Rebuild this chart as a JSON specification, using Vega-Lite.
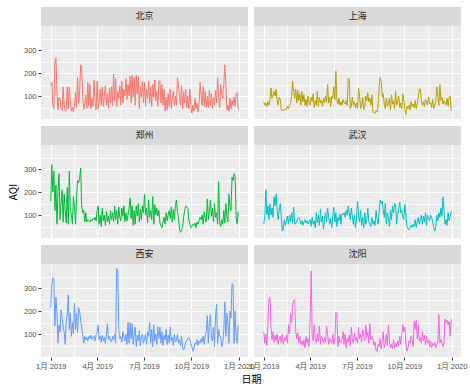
{
"$schema": "https://vega.github.io/schema/vega-lite/v6.json",
"background": "white",
"padding": {"left": 8, "top": 7, "right": 8, "bottom": 4},
"data": {"values": [
{"c":"北京","d":"2019-01-01","v":145},{"c":"北京","d":"2019-01-03","v":160},{"c":"北京","d":"2019-01-05","v":60},{"c":"北京","d":"2019-01-07","v":45},{"c":"北京","d":"2019-01-09","v":250},{"c":"北京","d":"2019-01-11","v":266},{"c":"北京","d":"2019-01-13","v":120},{"c":"北京","d":"2019-01-15","v":40},{"c":"北京","d":"2019-01-17","v":95},{"c":"北京","d":"2019-01-19","v":85},{"c":"北京","d":"2019-01-21","v":45},{"c":"北京","d":"2019-01-23","v":35},{"c":"北京","d":"2019-01-25","v":140},{"c":"北京","d":"2019-01-27","v":60},{"c":"北京","d":"2019-01-29","v":35},{"c":"北京","d":"2019-01-31","v":40},
{"c":"北京","d":"2019-02-02","v":140},{"c":"北京","d":"2019-02-04","v":45},{"c":"北京","d":"2019-02-06","v":140},{"c":"北京","d":"2019-02-08","v":75},{"c":"北京","d":"2019-02-10","v":35},{"c":"北京","d":"2019-02-12","v":50},{"c":"北京","d":"2019-02-14","v":30},{"c":"北京","d":"2019-02-16","v":60},{"c":"北京","d":"2019-02-18","v":115},{"c":"北京","d":"2019-02-20","v":50},{"c":"北京","d":"2019-02-22","v":180},{"c":"北京","d":"2019-02-24","v":70},{"c":"北京","d":"2019-02-26","v":120},{"c":"北京","d":"2019-02-28","v":236},
{"c":"北京","d":"2019-03-02","v":225},{"c":"北京","d":"2019-03-04","v":100},{"c":"北京","d":"2019-03-06","v":40},{"c":"北京","d":"2019-03-08","v":60},{"c":"北京","d":"2019-03-10","v":105},{"c":"北京","d":"2019-03-12","v":45},{"c":"北京","d":"2019-03-14","v":160},{"c":"北京","d":"2019-03-16","v":60},{"c":"北京","d":"2019-03-18","v":150},{"c":"北京","d":"2019-03-20","v":45},{"c":"北京","d":"2019-03-22","v":90},{"c":"北京","d":"2019-03-24","v":55},{"c":"北京","d":"2019-03-26","v":170},{"c":"北京","d":"2019-03-28","v":80},{"c":"北京","d":"2019-03-30","v":40},
{"c":"北京","d":"2019-04-01","v":165},{"c":"北京","d":"2019-04-03","v":45},{"c":"北京","d":"2019-04-05","v":75},{"c":"北京","d":"2019-04-07","v":130},{"c":"北京","d":"2019-04-09","v":60},{"c":"北京","d":"2019-04-11","v":140},{"c":"北京","d":"2019-04-13","v":55},{"c":"北京","d":"2019-04-15","v":100},{"c":"北京","d":"2019-04-17","v":145},{"c":"北京","d":"2019-04-19","v":60},{"c":"北京","d":"2019-04-21","v":110},{"c":"北京","d":"2019-04-23","v":45},{"c":"北京","d":"2019-04-25","v":135},{"c":"北京","d":"2019-04-27","v":70},{"c":"北京","d":"2019-04-29","v":140},
{"c":"北京","d":"2019-05-01","v":60},{"c":"北京","d":"2019-05-03","v":195},{"c":"北京","d":"2019-05-05","v":80},{"c":"北京","d":"2019-05-07","v":175},{"c":"北京","d":"2019-05-09","v":55},{"c":"北京","d":"2019-05-11","v":120},{"c":"北京","d":"2019-05-13","v":90},{"c":"北京","d":"2019-05-15","v":145},{"c":"北京","d":"2019-05-17","v":60},{"c":"北京","d":"2019-05-19","v":165},{"c":"北京","d":"2019-05-21","v":70},{"c":"北京","d":"2019-05-23","v":130},{"c":"北京","d":"2019-05-25","v":100},{"c":"北京","d":"2019-05-27","v":175},{"c":"北京","d":"2019-05-29","v":85},{"c":"北京","d":"2019-05-31","v":150},
{"c":"北京","d":"2019-06-02","v":100},{"c":"北京","d":"2019-06-04","v":185},{"c":"北京","d":"2019-06-06","v":70},{"c":"北京","d":"2019-06-08","v":190},{"c":"北京","d":"2019-06-10","v":95},{"c":"北京","d":"2019-06-12","v":180},{"c":"北京","d":"2019-06-14","v":60},{"c":"北京","d":"2019-06-16","v":190},{"c":"北京","d":"2019-06-18","v":110},{"c":"北京","d":"2019-06-20","v":185},{"c":"北京","d":"2019-06-22","v":45},{"c":"北京","d":"2019-06-24","v":140},{"c":"北京","d":"2019-06-26","v":95},{"c":"北京","d":"2019-06-28","v":165},{"c":"北京","d":"2019-06-30","v":70},
{"c":"北京","d":"2019-07-02","v":160},{"c":"北京","d":"2019-07-04","v":55},{"c":"北京","d":"2019-07-06","v":130},{"c":"北京","d":"2019-07-08","v":90},{"c":"北京","d":"2019-07-10","v":165},{"c":"北京","d":"2019-07-12","v":70},{"c":"北京","d":"2019-07-14","v":140},{"c":"北京","d":"2019-07-16","v":55},{"c":"北京","d":"2019-07-18","v":150},{"c":"北京","d":"2019-07-20","v":95},{"c":"北京","d":"2019-07-22","v":170},{"c":"北京","d":"2019-07-24","v":80},{"c":"北京","d":"2019-07-26","v":120},{"c":"北京","d":"2019-07-28","v":55},{"c":"北京","d":"2019-07-30","v":165},
{"c":"北京","d":"2019-08-01","v":165},{"c":"北京","d":"2019-08-03","v":70},{"c":"北京","d":"2019-08-05","v":150},{"c":"北京","d":"2019-08-07","v":60},{"c":"北京","d":"2019-08-09","v":130},{"c":"北京","d":"2019-08-11","v":35},{"c":"北京","d":"2019-08-13","v":95},{"c":"北京","d":"2019-08-15","v":40},{"c":"北京","d":"2019-08-17","v":110},{"c":"北京","d":"2019-08-19","v":55},{"c":"北京","d":"2019-08-21","v":130},{"c":"北京","d":"2019-08-23","v":45},{"c":"北京","d":"2019-08-25","v":90},{"c":"北京","d":"2019-08-27","v":120},{"c":"北京","d":"2019-08-29","v":60},{"c":"北京","d":"2019-08-31","v":100},
{"c":"北京","d":"2019-09-02","v":60},{"c":"北京","d":"2019-09-04","v":180},{"c":"北京","d":"2019-09-06","v":150},{"c":"北京","d":"2019-09-08","v":100},{"c":"北京","d":"2019-09-10","v":60},{"c":"北京","d":"2019-09-12","v":145},{"c":"北京","d":"2019-09-14","v":45},{"c":"北京","d":"2019-09-16","v":120},{"c":"北京","d":"2019-09-18","v":70},{"c":"北京","d":"2019-09-20","v":130},{"c":"北京","d":"2019-09-22","v":50},{"c":"北京","d":"2019-09-24","v":100},{"c":"北京","d":"2019-09-26","v":45},{"c":"北京","d":"2019-09-28","v":130},{"c":"北京","d":"2019-09-30","v":60},
{"c":"北京","d":"2019-10-02","v":25},{"c":"北京","d":"2019-10-04","v":60},{"c":"北京","d":"2019-10-06","v":35},{"c":"北京","d":"2019-10-08","v":90},{"c":"北京","d":"2019-10-10","v":45},{"c":"北京","d":"2019-10-12","v":70},{"c":"北京","d":"2019-10-14","v":30},{"c":"北京","d":"2019-10-16","v":60},{"c":"北京","d":"2019-10-18","v":160},{"c":"北京","d":"2019-10-20","v":100},{"c":"北京","d":"2019-10-22","v":60},{"c":"北京","d":"2019-10-24","v":140},{"c":"北京","d":"2019-10-26","v":55},{"c":"北京","d":"2019-10-28","v":120},{"c":"北京","d":"2019-10-30","v":50},
{"c":"北京","d":"2019-11-01","v":100},{"c":"北京","d":"2019-11-03","v":50},{"c":"北京","d":"2019-11-05","v":125},{"c":"北京","d":"2019-11-07","v":60},{"c":"北京","d":"2019-11-09","v":110},{"c":"北京","d":"2019-11-11","v":45},{"c":"北京","d":"2019-11-13","v":95},{"c":"北京","d":"2019-11-15","v":60},{"c":"北京","d":"2019-11-17","v":125},{"c":"北京","d":"2019-11-19","v":70},{"c":"北京","d":"2019-11-21","v":180},{"c":"北京","d":"2019-11-23","v":95},{"c":"北京","d":"2019-11-25","v":50},{"c":"北京","d":"2019-11-27","v":150},{"c":"北京","d":"2019-11-29","v":110},
{"c":"北京","d":"2019-12-01","v":90},{"c":"北京","d":"2019-12-03","v":150},{"c":"北京","d":"2019-12-05","v":236},{"c":"北京","d":"2019-12-07","v":150},{"c":"北京","d":"2019-12-09","v":40},{"c":"北京","d":"2019-12-11","v":60},{"c":"北京","d":"2019-12-13","v":35},{"c":"北京","d":"2019-12-15","v":90},{"c":"北京","d":"2019-12-17","v":45},{"c":"北京","d":"2019-12-19","v":80},{"c":"北京","d":"2019-12-21","v":60},{"c":"北京","d":"2019-12-23","v":95},{"c":"北京","d":"2019-12-25","v":55},{"c":"北京","d":"2019-12-27","v":110},{"c":"北京","d":"2019-12-29","v":115},{"c":"北京","d":"2019-12-31","v":40},

{"c":"上海","d":"2019-01-01","v":75},{"c":"上海","d":"2019-01-03","v":60},{"c":"上海","d":"2019-01-05","v":70},{"c":"上海","d":"2019-01-07","v":55},{"c":"上海","d":"2019-01-09","v":75},{"c":"上海","d":"2019-01-11","v":60},{"c":"上海","d":"2019-01-13","v":80},{"c":"上海","d":"2019-01-15","v":135},{"c":"上海","d":"2019-01-17","v":90},{"c":"上海","d":"2019-01-19","v":105},{"c":"上海","d":"2019-01-21","v":120},{"c":"上海","d":"2019-01-23","v":100},{"c":"上海","d":"2019-01-25","v":130},{"c":"上海","d":"2019-01-27","v":80},{"c":"上海","d":"2019-01-29","v":60},{"c":"上海","d":"2019-01-31","v":95},
{"c":"上海","d":"2019-02-02","v":85},{"c":"上海","d":"2019-02-04","v":40},{"c":"上海","d":"2019-02-06","v":35},{"c":"上海","d":"2019-02-08","v":40},{"c":"上海","d":"2019-02-10","v":38},{"c":"上海","d":"2019-02-12","v":45},{"c":"上海","d":"2019-02-14","v":40},{"c":"上海","d":"2019-02-16","v":55},{"c":"上海","d":"2019-02-18","v":45},{"c":"上海","d":"2019-02-20","v":60},{"c":"上海","d":"2019-02-22","v":70},{"c":"上海","d":"2019-02-24","v":95},{"c":"上海","d":"2019-02-26","v":165},{"c":"上海","d":"2019-02-28","v":120},
{"c":"上海","d":"2019-03-02","v":90},{"c":"上海","d":"2019-03-04","v":130},{"c":"上海","d":"2019-03-06","v":70},{"c":"上海","d":"2019-03-08","v":125},{"c":"上海","d":"2019-03-10","v":80},{"c":"上海","d":"2019-03-12","v":110},{"c":"上海","d":"2019-03-14","v":60},{"c":"上海","d":"2019-03-16","v":120},{"c":"上海","d":"2019-03-18","v":75},{"c":"上海","d":"2019-03-20","v":105},{"c":"上海","d":"2019-03-22","v":60},{"c":"上海","d":"2019-03-24","v":85},{"c":"上海","d":"2019-03-26","v":55},{"c":"上海","d":"2019-03-28","v":100},{"c":"上海","d":"2019-03-30","v":70},
{"c":"上海","d":"2019-04-01","v":60},{"c":"上海","d":"2019-04-03","v":95},{"c":"上海","d":"2019-04-05","v":75},{"c":"上海","d":"2019-04-07","v":110},{"c":"上海","d":"2019-04-09","v":50},{"c":"上海","d":"2019-04-11","v":80},{"c":"上海","d":"2019-04-13","v":60},{"c":"上海","d":"2019-04-15","v":120},{"c":"上海","d":"2019-04-17","v":55},{"c":"上海","d":"2019-04-19","v":95},{"c":"上海","d":"2019-04-21","v":70},{"c":"上海","d":"2019-04-23","v":80},{"c":"上海","d":"2019-04-25","v":55},{"c":"上海","d":"2019-04-27","v":90},{"c":"上海","d":"2019-04-29","v":70},
{"c":"上海","d":"2019-05-01","v":100},{"c":"上海","d":"2019-05-03","v":75},{"c":"上海","d":"2019-05-05","v":150},{"c":"上海","d":"2019-05-07","v":70},{"c":"上海","d":"2019-05-09","v":95},{"c":"上海","d":"2019-05-11","v":55},{"c":"上海","d":"2019-05-13","v":100},{"c":"上海","d":"2019-05-15","v":90},{"c":"上海","d":"2019-05-17","v":140},{"c":"上海","d":"2019-05-19","v":85},{"c":"上海","d":"2019-05-21","v":208},{"c":"上海","d":"2019-05-23","v":85},{"c":"上海","d":"2019-05-25","v":65},{"c":"上海","d":"2019-05-27","v":90},{"c":"上海","d":"2019-05-29","v":60},{"c":"上海","d":"2019-05-31","v":75},
{"c":"上海","d":"2019-06-02","v":60},{"c":"上海","d":"2019-06-04","v":85},{"c":"上海","d":"2019-06-06","v":70},{"c":"上海","d":"2019-06-08","v":65},{"c":"上海","d":"2019-06-10","v":80},{"c":"上海","d":"2019-06-12","v":60},{"c":"上海","d":"2019-06-14","v":175},{"c":"上海","d":"2019-06-16","v":175},{"c":"上海","d":"2019-06-18","v":45},{"c":"上海","d":"2019-06-20","v":55},{"c":"上海","d":"2019-06-22","v":95},{"c":"上海","d":"2019-06-24","v":60},{"c":"上海","d":"2019-06-26","v":75},{"c":"上海","d":"2019-06-28","v":50},{"c":"上海","d":"2019-06-30","v":70},
{"c":"上海","d":"2019-07-02","v":45},{"c":"上海","d":"2019-07-04","v":135},{"c":"上海","d":"2019-07-06","v":100},{"c":"上海","d":"2019-07-08","v":45},{"c":"上海","d":"2019-07-10","v":60},{"c":"上海","d":"2019-07-12","v":95},{"c":"上海","d":"2019-07-14","v":40},{"c":"上海","d":"2019-07-16","v":55},{"c":"上海","d":"2019-07-18","v":100},{"c":"上海","d":"2019-07-20","v":80},{"c":"上海","d":"2019-07-22","v":115},{"c":"上海","d":"2019-07-24","v":75},{"c":"上海","d":"2019-07-26","v":90},{"c":"上海","d":"2019-07-28","v":60},{"c":"上海","d":"2019-07-30","v":105},
{"c":"上海","d":"2019-08-01","v":30},{"c":"上海","d":"2019-08-03","v":25},{"c":"上海","d":"2019-08-05","v":25},{"c":"上海","d":"2019-08-07","v":35},{"c":"上海","d":"2019-08-09","v":30},{"c":"上海","d":"2019-08-11","v":60},{"c":"上海","d":"2019-08-13","v":140},{"c":"上海","d":"2019-08-15","v":180},{"c":"上海","d":"2019-08-17","v":165},{"c":"上海","d":"2019-08-19","v":95},{"c":"上海","d":"2019-08-21","v":110},{"c":"上海","d":"2019-08-23","v":65},{"c":"上海","d":"2019-08-25","v":45},{"c":"上海","d":"2019-08-27","v":90},{"c":"上海","d":"2019-08-29","v":55},{"c":"上海","d":"2019-08-31","v":70},
{"c":"上海","d":"2019-09-02","v":90},{"c":"上海","d":"2019-09-04","v":40},{"c":"上海","d":"2019-09-06","v":105},{"c":"上海","d":"2019-09-08","v":65},{"c":"上海","d":"2019-09-10","v":80},{"c":"上海","d":"2019-09-12","v":45},{"c":"上海","d":"2019-09-14","v":120},{"c":"上海","d":"2019-09-16","v":60},{"c":"上海","d":"2019-09-18","v":75},{"c":"上海","d":"2019-09-20","v":100},{"c":"上海","d":"2019-09-22","v":50},{"c":"上海","d":"2019-09-24","v":70},{"c":"上海","d":"2019-09-26","v":45},{"c":"上海","d":"2019-09-28","v":110},{"c":"上海","d":"2019-09-30","v":85},
{"c":"上海","d":"2019-10-02","v":40},{"c":"上海","d":"2019-10-04","v":20},{"c":"上海","d":"2019-10-06","v":55},{"c":"上海","d":"2019-10-08","v":45},{"c":"上海","d":"2019-10-10","v":60},{"c":"上海","d":"2019-10-12","v":40},{"c":"上海","d":"2019-10-14","v":75},{"c":"上海","d":"2019-10-16","v":55},{"c":"上海","d":"2019-10-18","v":65},{"c":"上海","d":"2019-10-20","v":50},{"c":"上海","d":"2019-10-22","v":80},{"c":"上海","d":"2019-10-24","v":45},{"c":"上海","d":"2019-10-26","v":70},{"c":"上海","d":"2019-10-28","v":95},{"c":"上海","d":"2019-10-30","v":130},
{"c":"上海","d":"2019-11-01","v":130},{"c":"上海","d":"2019-11-03","v":80},{"c":"上海","d":"2019-11-05","v":60},{"c":"上海","d":"2019-11-07","v":75},{"c":"上海","d":"2019-11-09","v":55},{"c":"上海","d":"2019-11-11","v":85},{"c":"上海","d":"2019-11-13","v":70},{"c":"上海","d":"2019-11-15","v":60},{"c":"上海","d":"2019-11-17","v":95},{"c":"上海","d":"2019-11-19","v":65},{"c":"上海","d":"2019-11-21","v":70},{"c":"上海","d":"2019-11-23","v":50},{"c":"上海","d":"2019-11-25","v":85},{"c":"上海","d":"2019-11-27","v":45},{"c":"上海","d":"2019-11-29","v":60},
{"c":"上海","d":"2019-12-01","v":75},{"c":"上海","d":"2019-12-03","v":140},{"c":"上海","d":"2019-12-05","v":100},{"c":"上海","d":"2019-12-07","v":60},{"c":"上海","d":"2019-12-09","v":150},{"c":"上海","d":"2019-12-11","v":80},{"c":"上海","d":"2019-12-13","v":95},{"c":"上海","d":"2019-12-15","v":65},{"c":"上海","d":"2019-12-17","v":80},{"c":"上海","d":"2019-12-19","v":70},{"c":"上海","d":"2019-12-21","v":60},{"c":"上海","d":"2019-12-23","v":90},{"c":"上海","d":"2019-12-25","v":55},{"c":"上海","d":"2019-12-27","v":95},{"c":"上海","d":"2019-12-29","v":100},{"c":"上海","d":"2019-12-31","v":35},

{"c":"郑州","d":"2019-01-01","v":160},{"c":"郑州","d":"2019-01-03","v":320},{"c":"郑州","d":"2019-01-05","v":200},{"c":"郑州","d":"2019-01-07","v":290},{"c":"郑州","d":"2019-01-09","v":120},{"c":"郑州","d":"2019-01-11","v":230},{"c":"郑州","d":"2019-01-13","v":60},{"c":"郑州","d":"2019-01-15","v":200},{"c":"郑州","d":"2019-01-17","v":280},{"c":"郑州","d":"2019-01-19","v":80},{"c":"郑州","d":"2019-01-21","v":150},{"c":"郑州","d":"2019-01-23","v":210},{"c":"郑州","d":"2019-01-25","v":70},{"c":"郑州","d":"2019-01-27","v":190},{"c":"郑州","d":"2019-01-29","v":120},{"c":"郑州","d":"2019-01-31","v":65},
{"c":"郑州","d":"2019-02-02","v":220},{"c":"郑州","d":"2019-02-04","v":60},{"c":"郑州","d":"2019-02-06","v":290},{"c":"郑州","d":"2019-02-08","v":120},{"c":"郑州","d":"2019-02-10","v":100},{"c":"郑州","d":"2019-02-12","v":60},{"c":"郑州","d":"2019-02-14","v":180},{"c":"郑州","d":"2019-02-16","v":140},{"c":"郑州","d":"2019-02-18","v":60},{"c":"郑州","d":"2019-02-20","v":170},{"c":"郑州","d":"2019-02-22","v":250},{"c":"郑州","d":"2019-02-24","v":240},{"c":"郑州","d":"2019-02-26","v":260},{"c":"郑州","d":"2019-02-28","v":305},
{"c":"郑州","d":"2019-03-02","v":140},{"c":"郑州","d":"2019-03-04","v":110},{"c":"郑州","d":"2019-03-06","v":120},{"c":"郑州","d":"2019-03-08","v":70},{"c":"郑州","d":"2019-03-10","v":110},{"c":"郑州","d":"2019-03-12","v":70},{"c":"郑州","d":"2019-03-14","v":80},{"c":"郑州","d":"2019-03-16","v":75},{"c":"郑州","d":"2019-03-18","v":70},{"c":"郑州","d":"2019-03-20","v":80},{"c":"郑州","d":"2019-03-22","v":75},{"c":"郑州","d":"2019-03-24","v":85},{"c":"郑州","d":"2019-03-26","v":80},{"c":"郑州","d":"2019-03-28","v":90},{"c":"郑州","d":"2019-03-30","v":75},
{"c":"郑州","d":"2019-04-01","v":120},{"c":"郑州","d":"2019-04-03","v":140},{"c":"郑州","d":"2019-04-05","v":60},{"c":"郑州","d":"2019-04-07","v":100},{"c":"郑州","d":"2019-04-09","v":50},{"c":"郑州","d":"2019-04-11","v":130},{"c":"郑州","d":"2019-04-13","v":75},{"c":"郑州","d":"2019-04-15","v":100},{"c":"郑州","d":"2019-04-17","v":55},{"c":"郑州","d":"2019-04-19","v":115},{"c":"郑州","d":"2019-04-21","v":70},{"c":"郑州","d":"2019-04-23","v":95},{"c":"郑州","d":"2019-04-25","v":60},{"c":"郑州","d":"2019-04-27","v":120},{"c":"郑州","d":"2019-04-29","v":80},
{"c":"郑州","d":"2019-05-01","v":110},{"c":"郑州","d":"2019-05-03","v":70},{"c":"郑州","d":"2019-05-05","v":140},{"c":"郑州","d":"2019-05-07","v":80},{"c":"郑州","d":"2019-05-09","v":120},{"c":"郑州","d":"2019-05-11","v":60},{"c":"郑州","d":"2019-05-13","v":135},{"c":"郑州","d":"2019-05-15","v":90},{"c":"郑州","d":"2019-05-17","v":75},{"c":"郑州","d":"2019-05-19","v":130},{"c":"郑州","d":"2019-05-21","v":95},{"c":"郑州","d":"2019-05-23","v":140},{"c":"郑州","d":"2019-05-25","v":70},{"c":"郑州","d":"2019-05-27","v":110},{"c":"郑州","d":"2019-05-29","v":75},{"c":"郑州","d":"2019-05-31","v":100},
{"c":"郑州","d":"2019-06-02","v":130},{"c":"郑州","d":"2019-06-04","v":175},{"c":"郑州","d":"2019-06-06","v":85},{"c":"郑州","d":"2019-06-08","v":140},{"c":"郑州","d":"2019-06-10","v":55},{"c":"郑州","d":"2019-06-12","v":120},{"c":"郑州","d":"2019-06-14","v":60},{"c":"郑州","d":"2019-06-16","v":140},{"c":"郑州","d":"2019-06-18","v":95},{"c":"郑州","d":"2019-06-20","v":150},{"c":"郑州","d":"2019-06-22","v":70},{"c":"郑州","d":"2019-06-24","v":125},{"c":"郑州","d":"2019-06-26","v":80},{"c":"郑州","d":"2019-06-28","v":140},{"c":"郑州","d":"2019-06-30","v":110},
{"c":"郑州","d":"2019-07-02","v":190},{"c":"郑州","d":"2019-07-04","v":100},{"c":"郑州","d":"2019-07-06","v":130},{"c":"郑州","d":"2019-07-08","v":65},{"c":"郑州","d":"2019-07-10","v":165},{"c":"郑州","d":"2019-07-12","v":90},{"c":"郑州","d":"2019-07-14","v":120},{"c":"郑州","d":"2019-07-16","v":80},{"c":"郑州","d":"2019-07-18","v":180},{"c":"郑州","d":"2019-07-20","v":60},{"c":"郑州","d":"2019-07-22","v":145},{"c":"郑州","d":"2019-07-24","v":100},{"c":"郑州","d":"2019-07-26","v":130},{"c":"郑州","d":"2019-07-28","v":95},{"c":"郑州","d":"2019-07-30","v":120},
{"c":"郑州","d":"2019-08-01","v":65},{"c":"郑州","d":"2019-08-03","v":55},{"c":"郑州","d":"2019-08-05","v":45},{"c":"郑州","d":"2019-08-07","v":70},{"c":"郑州","d":"2019-08-09","v":90},{"c":"郑州","d":"2019-08-11","v":60},{"c":"郑州","d":"2019-08-13","v":110},{"c":"郑州","d":"2019-08-15","v":75},{"c":"郑州","d":"2019-08-17","v":100},{"c":"郑州","d":"2019-08-19","v":120},{"c":"郑州","d":"2019-08-21","v":85},{"c":"郑州","d":"2019-08-23","v":135},{"c":"郑州","d":"2019-08-25","v":70},{"c":"郑州","d":"2019-08-27","v":125},{"c":"郑州","d":"2019-08-29","v":80},{"c":"郑州","d":"2019-08-31","v":140},
{"c":"郑州","d":"2019-09-02","v":165},{"c":"郑州","d":"2019-09-04","v":110},{"c":"郑州","d":"2019-09-06","v":90},{"c":"郑州","d":"2019-09-08","v":40},{"c":"郑州","d":"2019-09-10","v":25},{"c":"郑州","d":"2019-09-12","v":35},{"c":"郑州","d":"2019-09-14","v":45},{"c":"郑州","d":"2019-09-16","v":90},{"c":"郑州","d":"2019-09-18","v":120},{"c":"郑州","d":"2019-09-20","v":140},{"c":"郑州","d":"2019-09-22","v":135},{"c":"郑州","d":"2019-09-24","v":130},{"c":"郑州","d":"2019-09-26","v":80},{"c":"郑州","d":"2019-09-28","v":60},{"c":"郑州","d":"2019-09-30","v":45},
{"c":"郑州","d":"2019-10-02","v":50},{"c":"郑州","d":"2019-10-04","v":60},{"c":"郑州","d":"2019-10-06","v":55},{"c":"郑州","d":"2019-10-08","v":65},{"c":"郑州","d":"2019-10-10","v":45},{"c":"郑州","d":"2019-10-12","v":70},{"c":"郑州","d":"2019-10-14","v":60},{"c":"郑州","d":"2019-10-16","v":75},{"c":"郑州","d":"2019-10-18","v":90},{"c":"郑州","d":"2019-10-20","v":80},{"c":"郑州","d":"2019-10-22","v":100},{"c":"郑州","d":"2019-10-24","v":60},{"c":"郑州","d":"2019-10-26","v":115},{"c":"郑州","d":"2019-10-28","v":85},{"c":"郑州","d":"2019-10-30","v":70},
{"c":"郑州","d":"2019-11-01","v":170},{"c":"郑州","d":"2019-11-03","v":80},{"c":"郑州","d":"2019-11-05","v":120},{"c":"郑州","d":"2019-11-07","v":165},{"c":"郑州","d":"2019-11-09","v":95},{"c":"郑州","d":"2019-11-11","v":130},{"c":"郑州","d":"2019-11-13","v":70},{"c":"郑州","d":"2019-11-15","v":150},{"c":"郑州","d":"2019-11-17","v":90},{"c":"郑州","d":"2019-11-19","v":110},{"c":"郑州","d":"2019-11-21","v":60},{"c":"郑州","d":"2019-11-23","v":245},{"c":"郑州","d":"2019-11-25","v":70},{"c":"郑州","d":"2019-11-27","v":50},{"c":"郑州","d":"2019-11-29","v":80},
{"c":"郑州","d":"2019-12-01","v":60},{"c":"郑州","d":"2019-12-03","v":120},{"c":"郑州","d":"2019-12-05","v":65},{"c":"郑州","d":"2019-12-07","v":150},{"c":"郑州","d":"2019-12-09","v":95},{"c":"郑州","d":"2019-12-11","v":70},{"c":"郑州","d":"2019-12-13","v":190},{"c":"郑州","d":"2019-12-15","v":140},{"c":"郑州","d":"2019-12-17","v":120},{"c":"郑州","d":"2019-12-19","v":265},{"c":"郑州","d":"2019-12-21","v":250},{"c":"郑州","d":"2019-12-23","v":280},{"c":"郑州","d":"2019-12-25","v":270},{"c":"郑州","d":"2019-12-27","v":90},{"c":"郑州","d":"2019-12-29","v":60},{"c":"郑州","d":"2019-12-31","v":115},

{"c":"武汉","d":"2019-01-01","v":60},{"c":"武汉","d":"2019-01-03","v":95},{"c":"武汉","d":"2019-01-05","v":210},{"c":"武汉","d":"2019-01-07","v":100},{"c":"武汉","d":"2019-01-09","v":140},{"c":"武汉","d":"2019-01-11","v":80},{"c":"武汉","d":"2019-01-13","v":150},{"c":"武汉","d":"2019-01-15","v":100},{"c":"武汉","d":"2019-01-17","v":130},{"c":"武汉","d":"2019-01-19","v":90},{"c":"武汉","d":"2019-01-21","v":180},{"c":"武汉","d":"2019-01-23","v":140},{"c":"武汉","d":"2019-01-25","v":190},{"c":"武汉","d":"2019-01-27","v":120},{"c":"武汉","d":"2019-01-29","v":80},{"c":"武汉","d":"2019-01-31","v":120},
{"c":"武汉","d":"2019-02-02","v":150},{"c":"武汉","d":"2019-02-04","v":90},{"c":"武汉","d":"2019-02-06","v":30},{"c":"武汉","d":"2019-02-08","v":40},{"c":"武汉","d":"2019-02-10","v":80},{"c":"武汉","d":"2019-02-12","v":55},{"c":"武汉","d":"2019-02-14","v":75},{"c":"武汉","d":"2019-02-16","v":95},{"c":"武汉","d":"2019-02-18","v":60},{"c":"武汉","d":"2019-02-20","v":100},{"c":"武汉","d":"2019-02-22","v":70},{"c":"武汉","d":"2019-02-24","v":110},{"c":"武汉","d":"2019-02-26","v":65},{"c":"武汉","d":"2019-02-28","v":135},
{"c":"武汉","d":"2019-03-02","v":60},{"c":"武汉","d":"2019-03-04","v":65},{"c":"武汉","d":"2019-03-06","v":70},{"c":"武汉","d":"2019-03-08","v":85},{"c":"武汉","d":"2019-03-10","v":90},{"c":"武汉","d":"2019-03-12","v":80},{"c":"武汉","d":"2019-03-14","v":60},{"c":"武汉","d":"2019-03-16","v":75},{"c":"武汉","d":"2019-03-18","v":55},{"c":"武汉","d":"2019-03-20","v":70},{"c":"武汉","d":"2019-03-22","v":80},{"c":"武汉","d":"2019-03-24","v":65},{"c":"武汉","d":"2019-03-26","v":75},{"c":"武汉","d":"2019-03-28","v":60},{"c":"武汉","d":"2019-03-30","v":70},
{"c":"武汉","d":"2019-04-01","v":80},{"c":"武汉","d":"2019-04-03","v":50},{"c":"武汉","d":"2019-04-05","v":90},{"c":"武汉","d":"2019-04-07","v":60},{"c":"武汉","d":"2019-04-09","v":75},{"c":"武汉","d":"2019-04-11","v":45},{"c":"武汉","d":"2019-04-13","v":110},{"c":"武汉","d":"2019-04-15","v":65},{"c":"武汉","d":"2019-04-17","v":100},{"c":"武汉","d":"2019-04-19","v":55},{"c":"武汉","d":"2019-04-21","v":125},{"c":"武汉","d":"2019-04-23","v":70},{"c":"武汉","d":"2019-04-25","v":95},{"c":"武汉","d":"2019-04-27","v":40},{"c":"武汉","d":"2019-04-29","v":85},
{"c":"武汉","d":"2019-05-01","v":110},{"c":"武汉","d":"2019-05-03","v":70},{"c":"武汉","d":"2019-05-05","v":130},{"c":"武汉","d":"2019-05-07","v":90},{"c":"武汉","d":"2019-05-09","v":60},{"c":"武汉","d":"2019-05-11","v":85},{"c":"武汉","d":"2019-05-13","v":45},{"c":"武汉","d":"2019-05-15","v":95},{"c":"武汉","d":"2019-05-17","v":135},{"c":"武汉","d":"2019-05-19","v":70},{"c":"武汉","d":"2019-05-21","v":110},{"c":"武汉","d":"2019-05-23","v":50},{"c":"武汉","d":"2019-05-25","v":90},{"c":"武汉","d":"2019-05-27","v":75},{"c":"武汉","d":"2019-05-29","v":105},{"c":"武汉","d":"2019-05-31","v":60},
{"c":"武汉","d":"2019-06-02","v":105},{"c":"武汉","d":"2019-06-04","v":100},{"c":"武汉","d":"2019-06-06","v":110},{"c":"武汉","d":"2019-06-08","v":90},{"c":"武汉","d":"2019-06-10","v":120},{"c":"武汉","d":"2019-06-12","v":100},{"c":"武汉","d":"2019-06-14","v":140},{"c":"武汉","d":"2019-06-16","v":110},{"c":"武汉","d":"2019-06-18","v":80},{"c":"武汉","d":"2019-06-20","v":130},{"c":"武汉","d":"2019-06-22","v":95},{"c":"武汉","d":"2019-06-24","v":60},{"c":"武汉","d":"2019-06-26","v":100},{"c":"武汉","d":"2019-06-28","v":45},{"c":"武汉","d":"2019-06-30","v":75},
{"c":"武汉","d":"2019-07-02","v":160},{"c":"武汉","d":"2019-07-04","v":100},{"c":"武汉","d":"2019-07-06","v":70},{"c":"武汉","d":"2019-07-08","v":120},{"c":"武汉","d":"2019-07-10","v":55},{"c":"武汉","d":"2019-07-12","v":90},{"c":"武汉","d":"2019-07-14","v":45},{"c":"武汉","d":"2019-07-16","v":110},{"c":"武汉","d":"2019-07-18","v":60},{"c":"武汉","d":"2019-07-20","v":80},{"c":"武汉","d":"2019-07-22","v":130},{"c":"武汉","d":"2019-07-24","v":70},{"c":"武汉","d":"2019-07-26","v":60},{"c":"武汉","d":"2019-07-28","v":50},{"c":"武汉","d":"2019-07-30","v":90},
{"c":"武汉","d":"2019-08-01","v":60},{"c":"武汉","d":"2019-08-03","v":75},{"c":"武汉","d":"2019-08-05","v":55},{"c":"武汉","d":"2019-08-07","v":120},{"c":"武汉","d":"2019-08-09","v":80},{"c":"武汉","d":"2019-08-11","v":60},{"c":"武汉","d":"2019-08-13","v":110},{"c":"武汉","d":"2019-08-15","v":165},{"c":"武汉","d":"2019-08-17","v":150},{"c":"武汉","d":"2019-08-19","v":160},{"c":"武汉","d":"2019-08-21","v":120},{"c":"武汉","d":"2019-08-23","v":90},{"c":"武汉","d":"2019-08-25","v":150},{"c":"武汉","d":"2019-08-27","v":60},{"c":"武汉","d":"2019-08-29","v":110},{"c":"武汉","d":"2019-08-31","v":85},
{"c":"武汉","d":"2019-09-02","v":50},{"c":"武汉","d":"2019-09-04","v":120},{"c":"武汉","d":"2019-09-06","v":80},{"c":"武汉","d":"2019-09-08","v":140},{"c":"武汉","d":"2019-09-10","v":110},{"c":"武汉","d":"2019-09-12","v":150},{"c":"武汉","d":"2019-09-14","v":145},{"c":"武汉","d":"2019-09-16","v":60},{"c":"武汉","d":"2019-09-18","v":100},{"c":"武汉","d":"2019-09-20","v":130},{"c":"武汉","d":"2019-09-22","v":155},{"c":"武汉","d":"2019-09-24","v":110},{"c":"武汉","d":"2019-09-26","v":120},{"c":"武汉","d":"2019-09-28","v":90},{"c":"武汉","d":"2019-09-30","v":80},
{"c":"武汉","d":"2019-10-02","v":145},{"c":"武汉","d":"2019-10-04","v":100},{"c":"武汉","d":"2019-10-06","v":50},{"c":"武汉","d":"2019-10-08","v":40},{"c":"武汉","d":"2019-10-10","v":35},{"c":"武汉","d":"2019-10-12","v":45},{"c":"武汉","d":"2019-10-14","v":55},{"c":"武汉","d":"2019-10-16","v":45},{"c":"武汉","d":"2019-10-18","v":60},{"c":"武汉","d":"2019-10-20","v":50},{"c":"武汉","d":"2019-10-22","v":80},{"c":"武汉","d":"2019-10-24","v":45},{"c":"武汉","d":"2019-10-26","v":70},{"c":"武汉","d":"2019-10-28","v":90},{"c":"武汉","d":"2019-10-30","v":60},
{"c":"武汉","d":"2019-11-01","v":80},{"c":"武汉","d":"2019-11-03","v":100},{"c":"武汉","d":"2019-11-05","v":60},{"c":"武汉","d":"2019-11-07","v":95},{"c":"武汉","d":"2019-11-09","v":70},{"c":"武汉","d":"2019-11-11","v":110},{"c":"武汉","d":"2019-11-13","v":55},{"c":"武汉","d":"2019-11-15","v":100},{"c":"武汉","d":"2019-11-17","v":85},{"c":"武汉","d":"2019-11-19","v":75},{"c":"武汉","d":"2019-11-21","v":100},{"c":"武汉","d":"2019-11-23","v":90},{"c":"武汉","d":"2019-11-25","v":70},{"c":"武汉","d":"2019-11-27","v":45},{"c":"武汉","d":"2019-11-29","v":30},
{"c":"武汉","d":"2019-12-01","v":50},{"c":"武汉","d":"2019-12-03","v":100},{"c":"武汉","d":"2019-12-05","v":75},{"c":"武汉","d":"2019-12-07","v":110},{"c":"武汉","d":"2019-12-09","v":90},{"c":"武汉","d":"2019-12-11","v":130},{"c":"武汉","d":"2019-12-13","v":95},{"c":"武汉","d":"2019-12-15","v":180},{"c":"武汉","d":"2019-12-17","v":120},{"c":"武汉","d":"2019-12-19","v":60},{"c":"武汉","d":"2019-12-21","v":80},{"c":"武汉","d":"2019-12-23","v":55},{"c":"武汉","d":"2019-12-25","v":110},{"c":"武汉","d":"2019-12-27","v":75},{"c":"武汉","d":"2019-12-29","v":95},{"c":"武汉","d":"2019-12-31","v":115},

{"c":"西安","d":"2019-01-01","v":215},{"c":"西安","d":"2019-01-03","v":320},{"c":"西安","d":"2019-01-05","v":345},{"c":"西安","d":"2019-01-07","v":340},{"c":"西安","d":"2019-01-09","v":135},{"c":"西安","d":"2019-01-11","v":260},{"c":"西安","d":"2019-01-13","v":190},{"c":"西安","d":"2019-01-15","v":60},{"c":"西安","d":"2019-01-17","v":140},{"c":"西安","d":"2019-01-19","v":110},{"c":"西安","d":"2019-01-21","v":205},{"c":"西安","d":"2019-01-23","v":170},{"c":"西安","d":"2019-01-25","v":130},{"c":"西安","d":"2019-01-27","v":110},{"c":"西安","d":"2019-01-29","v":55},{"c":"西安","d":"2019-01-31","v":150},
{"c":"西安","d":"2019-02-02","v":190},{"c":"西安","d":"2019-02-04","v":270},{"c":"西安","d":"2019-02-06","v":120},{"c":"西安","d":"2019-02-08","v":190},{"c":"西安","d":"2019-02-10","v":90},{"c":"西安","d":"2019-02-12","v":150},{"c":"西安","d":"2019-02-14","v":100},{"c":"西安","d":"2019-02-16","v":235},{"c":"西安","d":"2019-02-18","v":120},{"c":"西安","d":"2019-02-20","v":190},{"c":"西安","d":"2019-02-22","v":105},{"c":"西安","d":"2019-02-24","v":215},{"c":"西安","d":"2019-02-26","v":200},{"c":"西安","d":"2019-02-28","v":160},
{"c":"西安","d":"2019-03-02","v":130},{"c":"西安","d":"2019-03-04","v":95},{"c":"西安","d":"2019-03-06","v":60},{"c":"西安","d":"2019-03-08","v":90},{"c":"西安","d":"2019-03-10","v":75},{"c":"西安","d":"2019-03-12","v":85},{"c":"西安","d":"2019-03-14","v":70},{"c":"西安","d":"2019-03-16","v":90},{"c":"西安","d":"2019-03-18","v":80},{"c":"西安","d":"2019-03-20","v":95},{"c":"西安","d":"2019-03-22","v":75},{"c":"西安","d":"2019-03-24","v":85},{"c":"西安","d":"2019-03-26","v":90},{"c":"西安","d":"2019-03-28","v":70},{"c":"西安","d":"2019-03-30","v":100},
{"c":"西安","d":"2019-04-01","v":105},{"c":"西安","d":"2019-04-03","v":140},{"c":"西安","d":"2019-04-05","v":75},{"c":"西安","d":"2019-04-07","v":90},{"c":"西安","d":"2019-04-09","v":65},{"c":"西安","d":"2019-04-11","v":95},{"c":"西安","d":"2019-04-13","v":70},{"c":"西安","d":"2019-04-15","v":85},{"c":"西安","d":"2019-04-17","v":60},{"c":"西安","d":"2019-04-19","v":100},{"c":"西安","d":"2019-04-21","v":145},{"c":"西安","d":"2019-04-23","v":75},{"c":"西安","d":"2019-04-25","v":90},{"c":"西安","d":"2019-04-27","v":70},{"c":"西安","d":"2019-04-29","v":65},
{"c":"西安","d":"2019-05-01","v":90},{"c":"西安","d":"2019-05-03","v":75},{"c":"西安","d":"2019-05-05","v":100},{"c":"西安","d":"2019-05-07","v":60},{"c":"西安","d":"2019-05-09","v":385},{"c":"西安","d":"2019-05-11","v":380},{"c":"西安","d":"2019-05-13","v":120},{"c":"西安","d":"2019-05-15","v":80},{"c":"西安","d":"2019-05-17","v":90},{"c":"西安","d":"2019-05-19","v":65},{"c":"西安","d":"2019-05-21","v":110},{"c":"西安","d":"2019-05-23","v":85},{"c":"西安","d":"2019-05-25","v":70},{"c":"西安","d":"2019-05-27","v":100},{"c":"西安","d":"2019-05-29","v":55},{"c":"西安","d":"2019-05-31","v":150},
{"c":"西安","d":"2019-06-02","v":60},{"c":"西安","d":"2019-06-04","v":150},{"c":"西安","d":"2019-06-06","v":80},{"c":"西安","d":"2019-06-08","v":145},{"c":"西安","d":"2019-06-10","v":55},{"c":"西安","d":"2019-06-12","v":100},{"c":"西安","d":"2019-06-14","v":130},{"c":"西安","d":"2019-06-16","v":45},{"c":"西安","d":"2019-06-18","v":95},{"c":"西安","d":"2019-06-20","v":70},{"c":"西安","d":"2019-06-22","v":115},{"c":"西安","d":"2019-06-24","v":50},{"c":"西安","d":"2019-06-26","v":90},{"c":"西安","d":"2019-06-28","v":100},{"c":"西安","d":"2019-06-30","v":60},
{"c":"西安","d":"2019-07-02","v":80},{"c":"西安","d":"2019-07-04","v":100},{"c":"西安","d":"2019-07-06","v":55},{"c":"西安","d":"2019-07-08","v":110},{"c":"西安","d":"2019-07-10","v":90},{"c":"西安","d":"2019-07-12","v":150},{"c":"西安","d":"2019-07-14","v":60},{"c":"西安","d":"2019-07-16","v":120},{"c":"西安","d":"2019-07-18","v":45},{"c":"西安","d":"2019-07-20","v":140},{"c":"西安","d":"2019-07-22","v":70},{"c":"西安","d":"2019-07-24","v":100},{"c":"西安","d":"2019-07-26","v":55},{"c":"西安","d":"2019-07-28","v":130},{"c":"西安","d":"2019-07-30","v":80},
{"c":"西安","d":"2019-08-01","v":130},{"c":"西安","d":"2019-08-03","v":60},{"c":"西安","d":"2019-08-05","v":110},{"c":"西安","d":"2019-08-07","v":50},{"c":"西安","d":"2019-08-09","v":95},{"c":"西安","d":"2019-08-11","v":75},{"c":"西安","d":"2019-08-13","v":120},{"c":"西安","d":"2019-08-15","v":55},{"c":"西安","d":"2019-08-17","v":95},{"c":"西安","d":"2019-08-19","v":60},{"c":"西安","d":"2019-08-21","v":130},{"c":"西安","d":"2019-08-23","v":70},{"c":"西安","d":"2019-08-25","v":85},{"c":"西安","d":"2019-08-27","v":50},{"c":"西安","d":"2019-08-29","v":100},{"c":"西安","d":"2019-08-31","v":65},
{"c":"西安","d":"2019-09-02","v":70},{"c":"西安","d":"2019-09-04","v":100},{"c":"西安","d":"2019-09-06","v":60},{"c":"西安","d":"2019-09-08","v":75},{"c":"西安","d":"2019-09-10","v":50},{"c":"西安","d":"2019-09-12","v":90},{"c":"西安","d":"2019-09-14","v":40},{"c":"西安","d":"2019-09-16","v":30},{"c":"西安","d":"2019-09-18","v":45},{"c":"西安","d":"2019-09-20","v":65},{"c":"西安","d":"2019-09-22","v":70},{"c":"西安","d":"2019-09-24","v":80},{"c":"西安","d":"2019-09-26","v":85},{"c":"西安","d":"2019-09-28","v":75},{"c":"西安","d":"2019-09-30","v":60},
{"c":"西安","d":"2019-10-02","v":45},{"c":"西安","d":"2019-10-04","v":25},{"c":"西安","d":"2019-10-06","v":35},{"c":"西安","d":"2019-10-08","v":60},{"c":"西安","d":"2019-10-10","v":55},{"c":"西安","d":"2019-10-12","v":75},{"c":"西安","d":"2019-10-14","v":50},{"c":"西安","d":"2019-10-16","v":70},{"c":"西安","d":"2019-10-18","v":60},{"c":"西安","d":"2019-10-20","v":80},{"c":"西安","d":"2019-10-22","v":65},{"c":"西安","d":"2019-10-24","v":90},{"c":"西安","d":"2019-10-26","v":55},{"c":"西安","d":"2019-10-28","v":95},{"c":"西安","d":"2019-10-30","v":110},
{"c":"西安","d":"2019-11-01","v":180},{"c":"西安","d":"2019-11-03","v":60},{"c":"西安","d":"2019-11-05","v":150},{"c":"西安","d":"2019-11-07","v":185},{"c":"西安","d":"2019-11-09","v":85},{"c":"西安","d":"2019-11-11","v":70},{"c":"西安","d":"2019-11-13","v":130},{"c":"西安","d":"2019-11-15","v":45},{"c":"西安","d":"2019-11-17","v":180},{"c":"西安","d":"2019-11-19","v":230},{"c":"西安","d":"2019-11-21","v":60},{"c":"西安","d":"2019-11-23","v":120},{"c":"西安","d":"2019-11-25","v":90},{"c":"西安","d":"2019-11-27","v":90},{"c":"西安","d":"2019-11-29","v":45},
{"c":"西安","d":"2019-12-01","v":60},{"c":"西安","d":"2019-12-03","v":120},{"c":"西安","d":"2019-12-05","v":240},{"c":"西安","d":"2019-12-07","v":90},{"c":"西安","d":"2019-12-09","v":190},{"c":"西安","d":"2019-12-11","v":150},{"c":"西安","d":"2019-12-13","v":60},{"c":"西安","d":"2019-12-15","v":200},{"c":"西安","d":"2019-12-17","v":170},{"c":"西安","d":"2019-12-19","v":320},{"c":"西安","d":"2019-12-21","v":310},{"c":"西安","d":"2019-12-23","v":60},{"c":"西安","d":"2019-12-25","v":200},{"c":"西安","d":"2019-12-27","v":90},{"c":"西安","d":"2019-12-29","v":60},{"c":"西安","d":"2019-12-31","v":140},

{"c":"沈阳","d":"2019-01-01","v":110},{"c":"沈阳","d":"2019-01-03","v":60},{"c":"沈阳","d":"2019-01-05","v":100},{"c":"沈阳","d":"2019-01-07","v":50},{"c":"沈阳","d":"2019-01-09","v":140},{"c":"沈阳","d":"2019-01-11","v":255},{"c":"沈阳","d":"2019-01-13","v":260},{"c":"沈阳","d":"2019-01-15","v":130},{"c":"沈阳","d":"2019-01-17","v":75},{"c":"沈阳","d":"2019-01-19","v":110},{"c":"沈阳","d":"2019-01-21","v":65},{"c":"沈阳","d":"2019-01-23","v":95},{"c":"沈阳","d":"2019-01-25","v":70},{"c":"沈阳","d":"2019-01-27","v":100},{"c":"沈阳","d":"2019-01-29","v":55},{"c":"沈阳","d":"2019-01-31","v":80},
{"c":"沈阳","d":"2019-02-02","v":90},{"c":"沈阳","d":"2019-02-04","v":60},{"c":"沈阳","d":"2019-02-06","v":100},{"c":"沈阳","d":"2019-02-08","v":55},{"c":"沈阳","d":"2019-02-10","v":85},{"c":"沈阳","d":"2019-02-12","v":70},{"c":"沈阳","d":"2019-02-14","v":95},{"c":"沈阳","d":"2019-02-16","v":60},{"c":"沈阳","d":"2019-02-18","v":140},{"c":"沈阳","d":"2019-02-20","v":100},{"c":"沈阳","d":"2019-02-22","v":190},{"c":"沈阳","d":"2019-02-24","v":150},{"c":"沈阳","d":"2019-02-26","v":230},{"c":"沈阳","d":"2019-02-28","v":245},
{"c":"沈阳","d":"2019-03-02","v":250},{"c":"沈阳","d":"2019-03-04","v":110},{"c":"沈阳","d":"2019-03-06","v":80},{"c":"沈阳","d":"2019-03-08","v":105},{"c":"沈阳","d":"2019-03-10","v":60},{"c":"沈阳","d":"2019-03-12","v":90},{"c":"沈阳","d":"2019-03-14","v":55},{"c":"沈阳","d":"2019-03-16","v":70},{"c":"沈阳","d":"2019-03-18","v":50},{"c":"沈阳","d":"2019-03-20","v":75},{"c":"沈阳","d":"2019-03-22","v":40},{"c":"沈阳","d":"2019-03-24","v":90},{"c":"沈阳","d":"2019-03-26","v":60},{"c":"沈阳","d":"2019-03-28","v":80},{"c":"沈阳","d":"2019-03-30","v":45},
{"c":"沈阳","d":"2019-04-01","v":155},{"c":"沈阳","d":"2019-04-03","v":375},{"c":"沈阳","d":"2019-04-05","v":90},{"c":"沈阳","d":"2019-04-07","v":70},{"c":"沈阳","d":"2019-04-09","v":140},{"c":"沈阳","d":"2019-04-11","v":80},{"c":"沈阳","d":"2019-04-13","v":60},{"c":"沈阳","d":"2019-04-15","v":100},{"c":"沈阳","d":"2019-04-17","v":70},{"c":"沈阳","d":"2019-04-19","v":135},{"c":"沈阳","d":"2019-04-21","v":55},{"c":"沈阳","d":"2019-04-23","v":90},{"c":"沈阳","d":"2019-04-25","v":75},{"c":"沈阳","d":"2019-04-27","v":60},{"c":"沈阳","d":"2019-04-29","v":85},
{"c":"沈阳","d":"2019-05-01","v":65},{"c":"沈阳","d":"2019-05-03","v":135},{"c":"沈阳","d":"2019-05-05","v":95},{"c":"沈阳","d":"2019-05-07","v":55},{"c":"沈阳","d":"2019-05-09","v":80},{"c":"沈阳","d":"2019-05-11","v":70},{"c":"沈阳","d":"2019-05-13","v":60},{"c":"沈阳","d":"2019-05-15","v":100},{"c":"沈阳","d":"2019-05-17","v":55},{"c":"沈阳","d":"2019-05-19","v":70},{"c":"沈阳","d":"2019-05-21","v":195},{"c":"沈阳","d":"2019-05-23","v":190},{"c":"沈阳","d":"2019-05-25","v":45},{"c":"沈阳","d":"2019-05-27","v":90},{"c":"沈阳","d":"2019-05-29","v":60},{"c":"沈阳","d":"2019-05-31","v":65},
{"c":"沈阳","d":"2019-06-02","v":75},{"c":"沈阳","d":"2019-06-04","v":110},{"c":"沈阳","d":"2019-06-06","v":55},{"c":"沈阳","d":"2019-06-08","v":100},{"c":"沈阳","d":"2019-06-10","v":40},{"c":"沈阳","d":"2019-06-12","v":80},{"c":"沈阳","d":"2019-06-14","v":65},{"c":"沈阳","d":"2019-06-16","v":95},{"c":"沈阳","d":"2019-06-18","v":50},{"c":"沈阳","d":"2019-06-20","v":130},{"c":"沈阳","d":"2019-06-22","v":75},{"c":"沈阳","d":"2019-06-24","v":60},{"c":"沈阳","d":"2019-06-26","v":105},{"c":"沈阳","d":"2019-06-28","v":70},{"c":"沈阳","d":"2019-06-30","v":85},
{"c":"沈阳","d":"2019-07-02","v":60},{"c":"沈阳","d":"2019-07-04","v":130},{"c":"沈阳","d":"2019-07-06","v":80},{"c":"沈阳","d":"2019-07-08","v":100},{"c":"沈阳","d":"2019-07-10","v":65},{"c":"沈阳","d":"2019-07-12","v":120},{"c":"沈阳","d":"2019-07-14","v":90},{"c":"沈阳","d":"2019-07-16","v":70},{"c":"沈阳","d":"2019-07-18","v":140},{"c":"沈阳","d":"2019-07-20","v":85},{"c":"沈阳","d":"2019-07-22","v":110},{"c":"沈阳","d":"2019-07-24","v":60},{"c":"沈阳","d":"2019-07-26","v":145},{"c":"沈阳","d":"2019-07-28","v":75},{"c":"沈阳","d":"2019-07-30","v":90},
{"c":"沈阳","d":"2019-08-01","v":80},{"c":"沈阳","d":"2019-08-03","v":50},{"c":"沈阳","d":"2019-08-05","v":65},{"c":"沈阳","d":"2019-08-07","v":30},{"c":"沈阳","d":"2019-08-09","v":25},{"c":"沈阳","d":"2019-08-11","v":55},{"c":"沈阳","d":"2019-08-13","v":45},{"c":"沈阳","d":"2019-08-15","v":80},{"c":"沈阳","d":"2019-08-17","v":35},{"c":"沈阳","d":"2019-08-19","v":70},{"c":"沈阳","d":"2019-08-21","v":110},{"c":"沈阳","d":"2019-08-23","v":40},{"c":"沈阳","d":"2019-08-25","v":60},{"c":"沈阳","d":"2019-08-27","v":100},{"c":"沈阳","d":"2019-08-29","v":50},{"c":"沈阳","d":"2019-08-31","v":140},
{"c":"沈阳","d":"2019-09-02","v":70},{"c":"沈阳","d":"2019-09-04","v":40},{"c":"沈阳","d":"2019-09-06","v":55},{"c":"沈阳","d":"2019-09-08","v":35},{"c":"沈阳","d":"2019-09-10","v":75},{"c":"沈阳","d":"2019-09-12","v":40},{"c":"沈阳","d":"2019-09-14","v":60},{"c":"沈阳","d":"2019-09-16","v":45},{"c":"沈阳","d":"2019-09-18","v":70},{"c":"沈阳","d":"2019-09-20","v":50},{"c":"沈阳","d":"2019-09-22","v":90},{"c":"沈阳","d":"2019-09-24","v":55},{"c":"沈阳","d":"2019-09-26","v":100},{"c":"沈阳","d":"2019-09-28","v":140},{"c":"沈阳","d":"2019-09-30","v":110},
{"c":"沈阳","d":"2019-10-02","v":130},{"c":"沈阳","d":"2019-10-04","v":60},{"c":"沈阳","d":"2019-10-06","v":25},{"c":"沈阳","d":"2019-10-08","v":40},{"c":"沈阳","d":"2019-10-10","v":70},{"c":"沈阳","d":"2019-10-12","v":60},{"c":"沈阳","d":"2019-10-14","v":90},{"c":"沈阳","d":"2019-10-16","v":75},{"c":"沈阳","d":"2019-10-18","v":45},{"c":"沈阳","d":"2019-10-20","v":155},{"c":"沈阳","d":"2019-10-22","v":120},{"c":"沈阳","d":"2019-10-24","v":160},{"c":"沈阳","d":"2019-10-26","v":80},{"c":"沈阳","d":"2019-10-28","v":140},{"c":"沈阳","d":"2019-10-30","v":70},
{"c":"沈阳","d":"2019-11-01","v":85},{"c":"沈阳","d":"2019-11-03","v":60},{"c":"沈阳","d":"2019-11-05","v":110},{"c":"沈阳","d":"2019-11-07","v":70},{"c":"沈阳","d":"2019-11-09","v":95},{"c":"沈阳","d":"2019-11-11","v":55},{"c":"沈阳","d":"2019-11-13","v":90},{"c":"沈阳","d":"2019-11-15","v":60},{"c":"沈阳","d":"2019-11-17","v":75},{"c":"沈阳","d":"2019-11-19","v":45},{"c":"沈阳","d":"2019-11-21","v":70},{"c":"沈阳","d":"2019-11-23","v":40},{"c":"沈阳","d":"2019-11-25","v":60},{"c":"沈阳","d":"2019-11-27","v":50},{"c":"沈阳","d":"2019-11-29","v":65},
{"c":"沈阳","d":"2019-12-01","v":40},{"c":"沈阳","d":"2019-12-03","v":55},{"c":"沈阳","d":"2019-12-05","v":70},{"c":"沈阳","d":"2019-12-07","v":185},{"c":"沈阳","d":"2019-12-09","v":60},{"c":"沈阳","d":"2019-12-11","v":75},{"c":"沈阳","d":"2019-12-13","v":65},{"c":"沈阳","d":"2019-12-15","v":45},{"c":"沈阳","d":"2019-12-17","v":60},{"c":"沈阳","d":"2019-12-19","v":165},{"c":"沈阳","d":"2019-12-21","v":150},{"c":"沈阳","d":"2019-12-23","v":160},{"c":"沈阳","d":"2019-12-25","v":140},{"c":"沈阳","d":"2019-12-27","v":155},{"c":"沈阳","d":"2019-12-29","v":90},{"c":"沈阳","d":"2019-12-31","v":165}
]},
"columns": 2,
"spacing": {"row": 7, "column": 6},
"bounds": "flush",
"concat": [
  {"transform": [{"filter": {"field": "c", "equal": "北京"}}], "width": 207, "height": 112, "resolve": {"scale": {"y": "independent"}, "axis": {"y": "independent"}}, "layer": [
    {"mark": {"type": "line", "strokeWidth": 1, "color": "#F8766D"}, "encoding": {
      "x": {"field": "d", "type": "temporal", "scale": {"type": "utc", "domain": [{"year": 2018, "month": 12, "date": 13, "utc": true}, {"year": 2020, "month": 1, "date": 19, "utc": true}]},
        "axis": {"title": null, "labels": false, "ticks": false, "values": [{"year": 2019, "month": 1, "date": 1, "utc": true}, {"year": 2019, "month": 2, "date": 15, "hours": 12, "utc": true}, {"year": 2019, "month": 4, "date": 1, "utc": true}, {"year": 2019, "month": 5, "date": 16, "hours": 12, "utc": true}, {"year": 2019, "month": 7, "date": 1, "utc": true}, {"year": 2019, "month": 8, "date": 16, "utc": true}, {"year": 2019, "month": 10, "date": 1, "utc": true}, {"year": 2019, "month": 11, "date": 16, "utc": true}, {"year": 2020, "month": 1, "date": 1, "utc": true}],
          "gridWidth": {"condition": {"test": "utcdate(datum.value) == 1", "value": 1.1}, "value": 0.7}}},
      "y": {"field": "v", "type": "quantitative", "scale": {"domain": [0, 487.7], "nice": false, "zero": false},
        "axis": {"title": null, "values": [50, 100, 150, 200, 250, 300, 350], "labelExpr": "datum.value % 100 == 0 ? datum.label : ''",
          "tickOpacity": {"condition": {"test": "datum.value % 100 == 0", "value": 1}, "value": 0},
          "gridWidth": {"condition": {"test": "datum.value % 100 == 0", "value": 1.1}, "value": 0.7}}}}},
    {"transform": [{"aggregate": [{"op": "count", "as": "n"}], "groupby": ["c"]}], "mark": {"type": "rect", "color": "#D9D9D9"}, "encoding": {"y": {"datum": 405, "type": "quantitative", "scale": {"domain": [0, 487.7], "nice": false, "zero": false}, "axis": null}, "y2": {"datum": 487.7}}},
    {"transform": [{"aggregate": [{"op": "count", "as": "n"}], "groupby": ["c"]}], "mark": {"type": "text", "font": "Noto Sans CJK SC", "fontSize": 9, "color": "#1A1A1A", "baseline": "middle"}, "encoding": {"y": {"datum": 446.35, "type": "quantitative", "scale": {"domain": [0, 487.7], "nice": false, "zero": false}, "axis": null}, "text": {"field": "c"}}}
  ]},
  {"transform": [{"filter": {"field": "c", "equal": "上海"}}], "width": 207, "height": 112, "resolve": {"scale": {"y": "independent"}, "axis": {"y": "independent"}}, "layer": [
    {"mark": {"type": "line", "strokeWidth": 1, "color": "#B79F00"}, "encoding": {
      "x": {"field": "d", "type": "temporal", "scale": {"type": "utc", "domain": [{"year": 2018, "month": 12, "date": 13, "utc": true}, {"year": 2020, "month": 1, "date": 19, "utc": true}]},
        "axis": {"title": null, "labels": false, "ticks": false, "values": [{"year": 2019, "month": 1, "date": 1, "utc": true}, {"year": 2019, "month": 2, "date": 15, "hours": 12, "utc": true}, {"year": 2019, "month": 4, "date": 1, "utc": true}, {"year": 2019, "month": 5, "date": 16, "hours": 12, "utc": true}, {"year": 2019, "month": 7, "date": 1, "utc": true}, {"year": 2019, "month": 8, "date": 16, "utc": true}, {"year": 2019, "month": 10, "date": 1, "utc": true}, {"year": 2019, "month": 11, "date": 16, "utc": true}, {"year": 2020, "month": 1, "date": 1, "utc": true}],
          "gridWidth": {"condition": {"test": "utcdate(datum.value) == 1", "value": 1.1}, "value": 0.7}}},
      "y": {"field": "v", "type": "quantitative", "scale": {"domain": [0, 487.7], "nice": false, "zero": false},
        "axis": {"title": null, "labels": false, "ticks": false, "values": [50, 100, 150, 200, 250, 300, 350],
          "gridWidth": {"condition": {"test": "datum.value % 100 == 0", "value": 1.1}, "value": 0.7}}}}},
    {"transform": [{"aggregate": [{"op": "count", "as": "n"}], "groupby": ["c"]}], "mark": {"type": "rect", "color": "#D9D9D9"}, "encoding": {"y": {"datum": 405, "type": "quantitative", "scale": {"domain": [0, 487.7], "nice": false, "zero": false}, "axis": null}, "y2": {"datum": 487.7}}},
    {"transform": [{"aggregate": [{"op": "count", "as": "n"}], "groupby": ["c"]}], "mark": {"type": "text", "font": "Noto Sans CJK SC", "fontSize": 9, "color": "#1A1A1A", "baseline": "middle"}, "encoding": {"y": {"datum": 446.35, "type": "quantitative", "scale": {"domain": [0, 487.7], "nice": false, "zero": false}, "axis": null}, "text": {"field": "c"}}}
  ]},
  {"transform": [{"filter": {"field": "c", "equal": "郑州"}}], "width": 207, "height": 112, "resolve": {"scale": {"y": "independent"}, "axis": {"y": "independent"}}, "layer": [
    {"mark": {"type": "line", "strokeWidth": 1, "color": "#00BA38"}, "encoding": {
      "x": {"field": "d", "type": "temporal", "scale": {"type": "utc", "domain": [{"year": 2018, "month": 12, "date": 13, "utc": true}, {"year": 2020, "month": 1, "date": 19, "utc": true}]},
        "axis": {"title": null, "labels": false, "ticks": false, "values": [{"year": 2019, "month": 1, "date": 1, "utc": true}, {"year": 2019, "month": 2, "date": 15, "hours": 12, "utc": true}, {"year": 2019, "month": 4, "date": 1, "utc": true}, {"year": 2019, "month": 5, "date": 16, "hours": 12, "utc": true}, {"year": 2019, "month": 7, "date": 1, "utc": true}, {"year": 2019, "month": 8, "date": 16, "utc": true}, {"year": 2019, "month": 10, "date": 1, "utc": true}, {"year": 2019, "month": 11, "date": 16, "utc": true}, {"year": 2020, "month": 1, "date": 1, "utc": true}],
          "gridWidth": {"condition": {"test": "utcdate(datum.value) == 1", "value": 1.1}, "value": 0.7}}},
      "y": {"field": "v", "type": "quantitative", "scale": {"domain": [0, 487.7], "nice": false, "zero": false},
        "axis": {"title": "AQI", "titleY": 65.5, "values": [50, 100, 150, 200, 250, 300, 350], "labelExpr": "datum.value % 100 == 0 ? datum.label : ''",
          "tickOpacity": {"condition": {"test": "datum.value % 100 == 0", "value": 1}, "value": 0},
          "gridWidth": {"condition": {"test": "datum.value % 100 == 0", "value": 1.1}, "value": 0.7}}}}},
    {"transform": [{"aggregate": [{"op": "count", "as": "n"}], "groupby": ["c"]}], "mark": {"type": "rect", "color": "#D9D9D9"}, "encoding": {"y": {"datum": 405, "type": "quantitative", "scale": {"domain": [0, 487.7], "nice": false, "zero": false}, "axis": null}, "y2": {"datum": 487.7}}},
    {"transform": [{"aggregate": [{"op": "count", "as": "n"}], "groupby": ["c"]}], "mark": {"type": "text", "font": "Noto Sans CJK SC", "fontSize": 9, "color": "#1A1A1A", "baseline": "middle"}, "encoding": {"y": {"datum": 446.35, "type": "quantitative", "scale": {"domain": [0, 487.7], "nice": false, "zero": false}, "axis": null}, "text": {"field": "c"}}}
  ]},
  {"transform": [{"filter": {"field": "c", "equal": "武汉"}}], "width": 207, "height": 112, "resolve": {"scale": {"y": "independent"}, "axis": {"y": "independent"}}, "layer": [
    {"mark": {"type": "line", "strokeWidth": 1, "color": "#00BFC4"}, "encoding": {
      "x": {"field": "d", "type": "temporal", "scale": {"type": "utc", "domain": [{"year": 2018, "month": 12, "date": 13, "utc": true}, {"year": 2020, "month": 1, "date": 19, "utc": true}]},
        "axis": {"title": null, "labels": false, "ticks": false, "values": [{"year": 2019, "month": 1, "date": 1, "utc": true}, {"year": 2019, "month": 2, "date": 15, "hours": 12, "utc": true}, {"year": 2019, "month": 4, "date": 1, "utc": true}, {"year": 2019, "month": 5, "date": 16, "hours": 12, "utc": true}, {"year": 2019, "month": 7, "date": 1, "utc": true}, {"year": 2019, "month": 8, "date": 16, "utc": true}, {"year": 2019, "month": 10, "date": 1, "utc": true}, {"year": 2019, "month": 11, "date": 16, "utc": true}, {"year": 2020, "month": 1, "date": 1, "utc": true}],
          "gridWidth": {"condition": {"test": "utcdate(datum.value) == 1", "value": 1.1}, "value": 0.7}}},
      "y": {"field": "v", "type": "quantitative", "scale": {"domain": [0, 487.7], "nice": false, "zero": false},
        "axis": {"title": null, "labels": false, "ticks": false, "values": [50, 100, 150, 200, 250, 300, 350],
          "gridWidth": {"condition": {"test": "datum.value % 100 == 0", "value": 1.1}, "value": 0.7}}}}},
    {"transform": [{"aggregate": [{"op": "count", "as": "n"}], "groupby": ["c"]}], "mark": {"type": "rect", "color": "#D9D9D9"}, "encoding": {"y": {"datum": 405, "type": "quantitative", "scale": {"domain": [0, 487.7], "nice": false, "zero": false}, "axis": null}, "y2": {"datum": 487.7}}},
    {"transform": [{"aggregate": [{"op": "count", "as": "n"}], "groupby": ["c"]}], "mark": {"type": "text", "font": "Noto Sans CJK SC", "fontSize": 9, "color": "#1A1A1A", "baseline": "middle"}, "encoding": {"y": {"datum": 446.35, "type": "quantitative", "scale": {"domain": [0, 487.7], "nice": false, "zero": false}, "axis": null}, "text": {"field": "c"}}}
  ]},
  {"transform": [{"filter": {"field": "c", "equal": "西安"}}], "width": 207, "height": 112, "resolve": {"scale": {"y": "independent"}, "axis": {"y": "independent"}}, "layer": [
    {"mark": {"type": "line", "strokeWidth": 1, "color": "#619CFF"}, "encoding": {
      "x": {"field": "d", "type": "temporal", "scale": {"type": "utc", "domain": [{"year": 2018, "month": 12, "date": 13, "utc": true}, {"year": 2020, "month": 1, "date": 19, "utc": true}]},
        "axis": {"title": "日期", "titleX": 210, "values": [{"year": 2019, "month": 1, "date": 1, "utc": true}, {"year": 2019, "month": 2, "date": 15, "hours": 12, "utc": true}, {"year": 2019, "month": 4, "date": 1, "utc": true}, {"year": 2019, "month": 5, "date": 16, "hours": 12, "utc": true}, {"year": 2019, "month": 7, "date": 1, "utc": true}, {"year": 2019, "month": 8, "date": 16, "utc": true}, {"year": 2019, "month": 10, "date": 1, "utc": true}, {"year": 2019, "month": 11, "date": 16, "utc": true}, {"year": 2020, "month": 1, "date": 1, "utc": true}],
          "labelExpr": "utcdate(datum.value) == 1 ? (utcmonth(datum.value) + 1) + '月 ' + utcyear(datum.value) : ''",
          "tickOpacity": {"condition": {"test": "utcdate(datum.value) == 1", "value": 1}, "value": 0},
          "gridWidth": {"condition": {"test": "utcdate(datum.value) == 1", "value": 1.1}, "value": 0.7}}},
      "y": {"field": "v", "type": "quantitative", "scale": {"domain": [0, 487.7], "nice": false, "zero": false},
        "axis": {"title": null, "values": [50, 100, 150, 200, 250, 300, 350], "labelExpr": "datum.value % 100 == 0 ? datum.label : ''",
          "tickOpacity": {"condition": {"test": "datum.value % 100 == 0", "value": 1}, "value": 0},
          "gridWidth": {"condition": {"test": "datum.value % 100 == 0", "value": 1.1}, "value": 0.7}}}}},
    {"transform": [{"aggregate": [{"op": "count", "as": "n"}], "groupby": ["c"]}], "mark": {"type": "rect", "color": "#D9D9D9"}, "encoding": {"y": {"datum": 405, "type": "quantitative", "scale": {"domain": [0, 487.7], "nice": false, "zero": false}, "axis": null}, "y2": {"datum": 487.7}}},
    {"transform": [{"aggregate": [{"op": "count", "as": "n"}], "groupby": ["c"]}], "mark": {"type": "text", "font": "Noto Sans CJK SC", "fontSize": 9, "color": "#1A1A1A", "baseline": "middle"}, "encoding": {"y": {"datum": 446.35, "type": "quantitative", "scale": {"domain": [0, 487.7], "nice": false, "zero": false}, "axis": null}, "text": {"field": "c"}}}
  ]},
  {"transform": [{"filter": {"field": "c", "equal": "沈阳"}}], "width": 207, "height": 112, "resolve": {"scale": {"y": "independent"}, "axis": {"y": "independent"}}, "layer": [
    {"mark": {"type": "line", "strokeWidth": 1, "color": "#F564E3"}, "encoding": {
      "x": {"field": "d", "type": "temporal", "scale": {"type": "utc", "domain": [{"year": 2018, "month": 12, "date": 13, "utc": true}, {"year": 2020, "month": 1, "date": 19, "utc": true}]},
        "axis": {"title": null, "values": [{"year": 2019, "month": 1, "date": 1, "utc": true}, {"year": 2019, "month": 2, "date": 15, "hours": 12, "utc": true}, {"year": 2019, "month": 4, "date": 1, "utc": true}, {"year": 2019, "month": 5, "date": 16, "hours": 12, "utc": true}, {"year": 2019, "month": 7, "date": 1, "utc": true}, {"year": 2019, "month": 8, "date": 16, "utc": true}, {"year": 2019, "month": 10, "date": 1, "utc": true}, {"year": 2019, "month": 11, "date": 16, "utc": true}, {"year": 2020, "month": 1, "date": 1, "utc": true}],
          "labelExpr": "utcdate(datum.value) == 1 ? (utcmonth(datum.value) + 1) + '月 ' + utcyear(datum.value) : ''",
          "tickOpacity": {"condition": {"test": "utcdate(datum.value) == 1", "value": 1}, "value": 0},
          "gridWidth": {"condition": {"test": "utcdate(datum.value) == 1", "value": 1.1}, "value": 0.7}}},
      "y": {"field": "v", "type": "quantitative", "scale": {"domain": [0, 487.7], "nice": false, "zero": false},
        "axis": {"title": null, "labels": false, "ticks": false, "values": [50, 100, 150, 200, 250, 300, 350],
          "gridWidth": {"condition": {"test": "datum.value % 100 == 0", "value": 1.1}, "value": 0.7}}}}},
    {"transform": [{"aggregate": [{"op": "count", "as": "n"}], "groupby": ["c"]}], "mark": {"type": "rect", "color": "#D9D9D9"}, "encoding": {"y": {"datum": 405, "type": "quantitative", "scale": {"domain": [0, 487.7], "nice": false, "zero": false}, "axis": null}, "y2": {"datum": 487.7}}},
    {"transform": [{"aggregate": [{"op": "count", "as": "n"}], "groupby": ["c"]}], "mark": {"type": "text", "font": "Noto Sans CJK SC", "fontSize": 9, "color": "#1A1A1A", "baseline": "middle"}, "encoding": {"y": {"datum": 446.35, "type": "quantitative", "scale": {"domain": [0, 487.7], "nice": false, "zero": false}, "axis": null}, "text": {"field": "c"}}}
  ]}
],
"config": {
  "view": {"fill": "#EBEBEB", "stroke": null},
  "axis": {
    "domain": false,
    "grid": true,
    "gridColor": "#FFFFFF",
    "tickColor": "#333333",
    "tickSize": 3,
    "labelColor": "#4D4D4D",
    "labelFont": "Liberation Sans, Noto Sans CJK SC",
    "labelFontSize": 7.5,
    "labelPadding": 2,
    "labelOverlap": false,
    "labelFlush": false,
    "labelBound": false,
    "titleFont": "Noto Sans CJK SC",
    "titleFontSize": 10,
    "titleFontWeight": "normal",
    "titleColor": "#000000",
    "titlePadding": 5
  }
}
}
